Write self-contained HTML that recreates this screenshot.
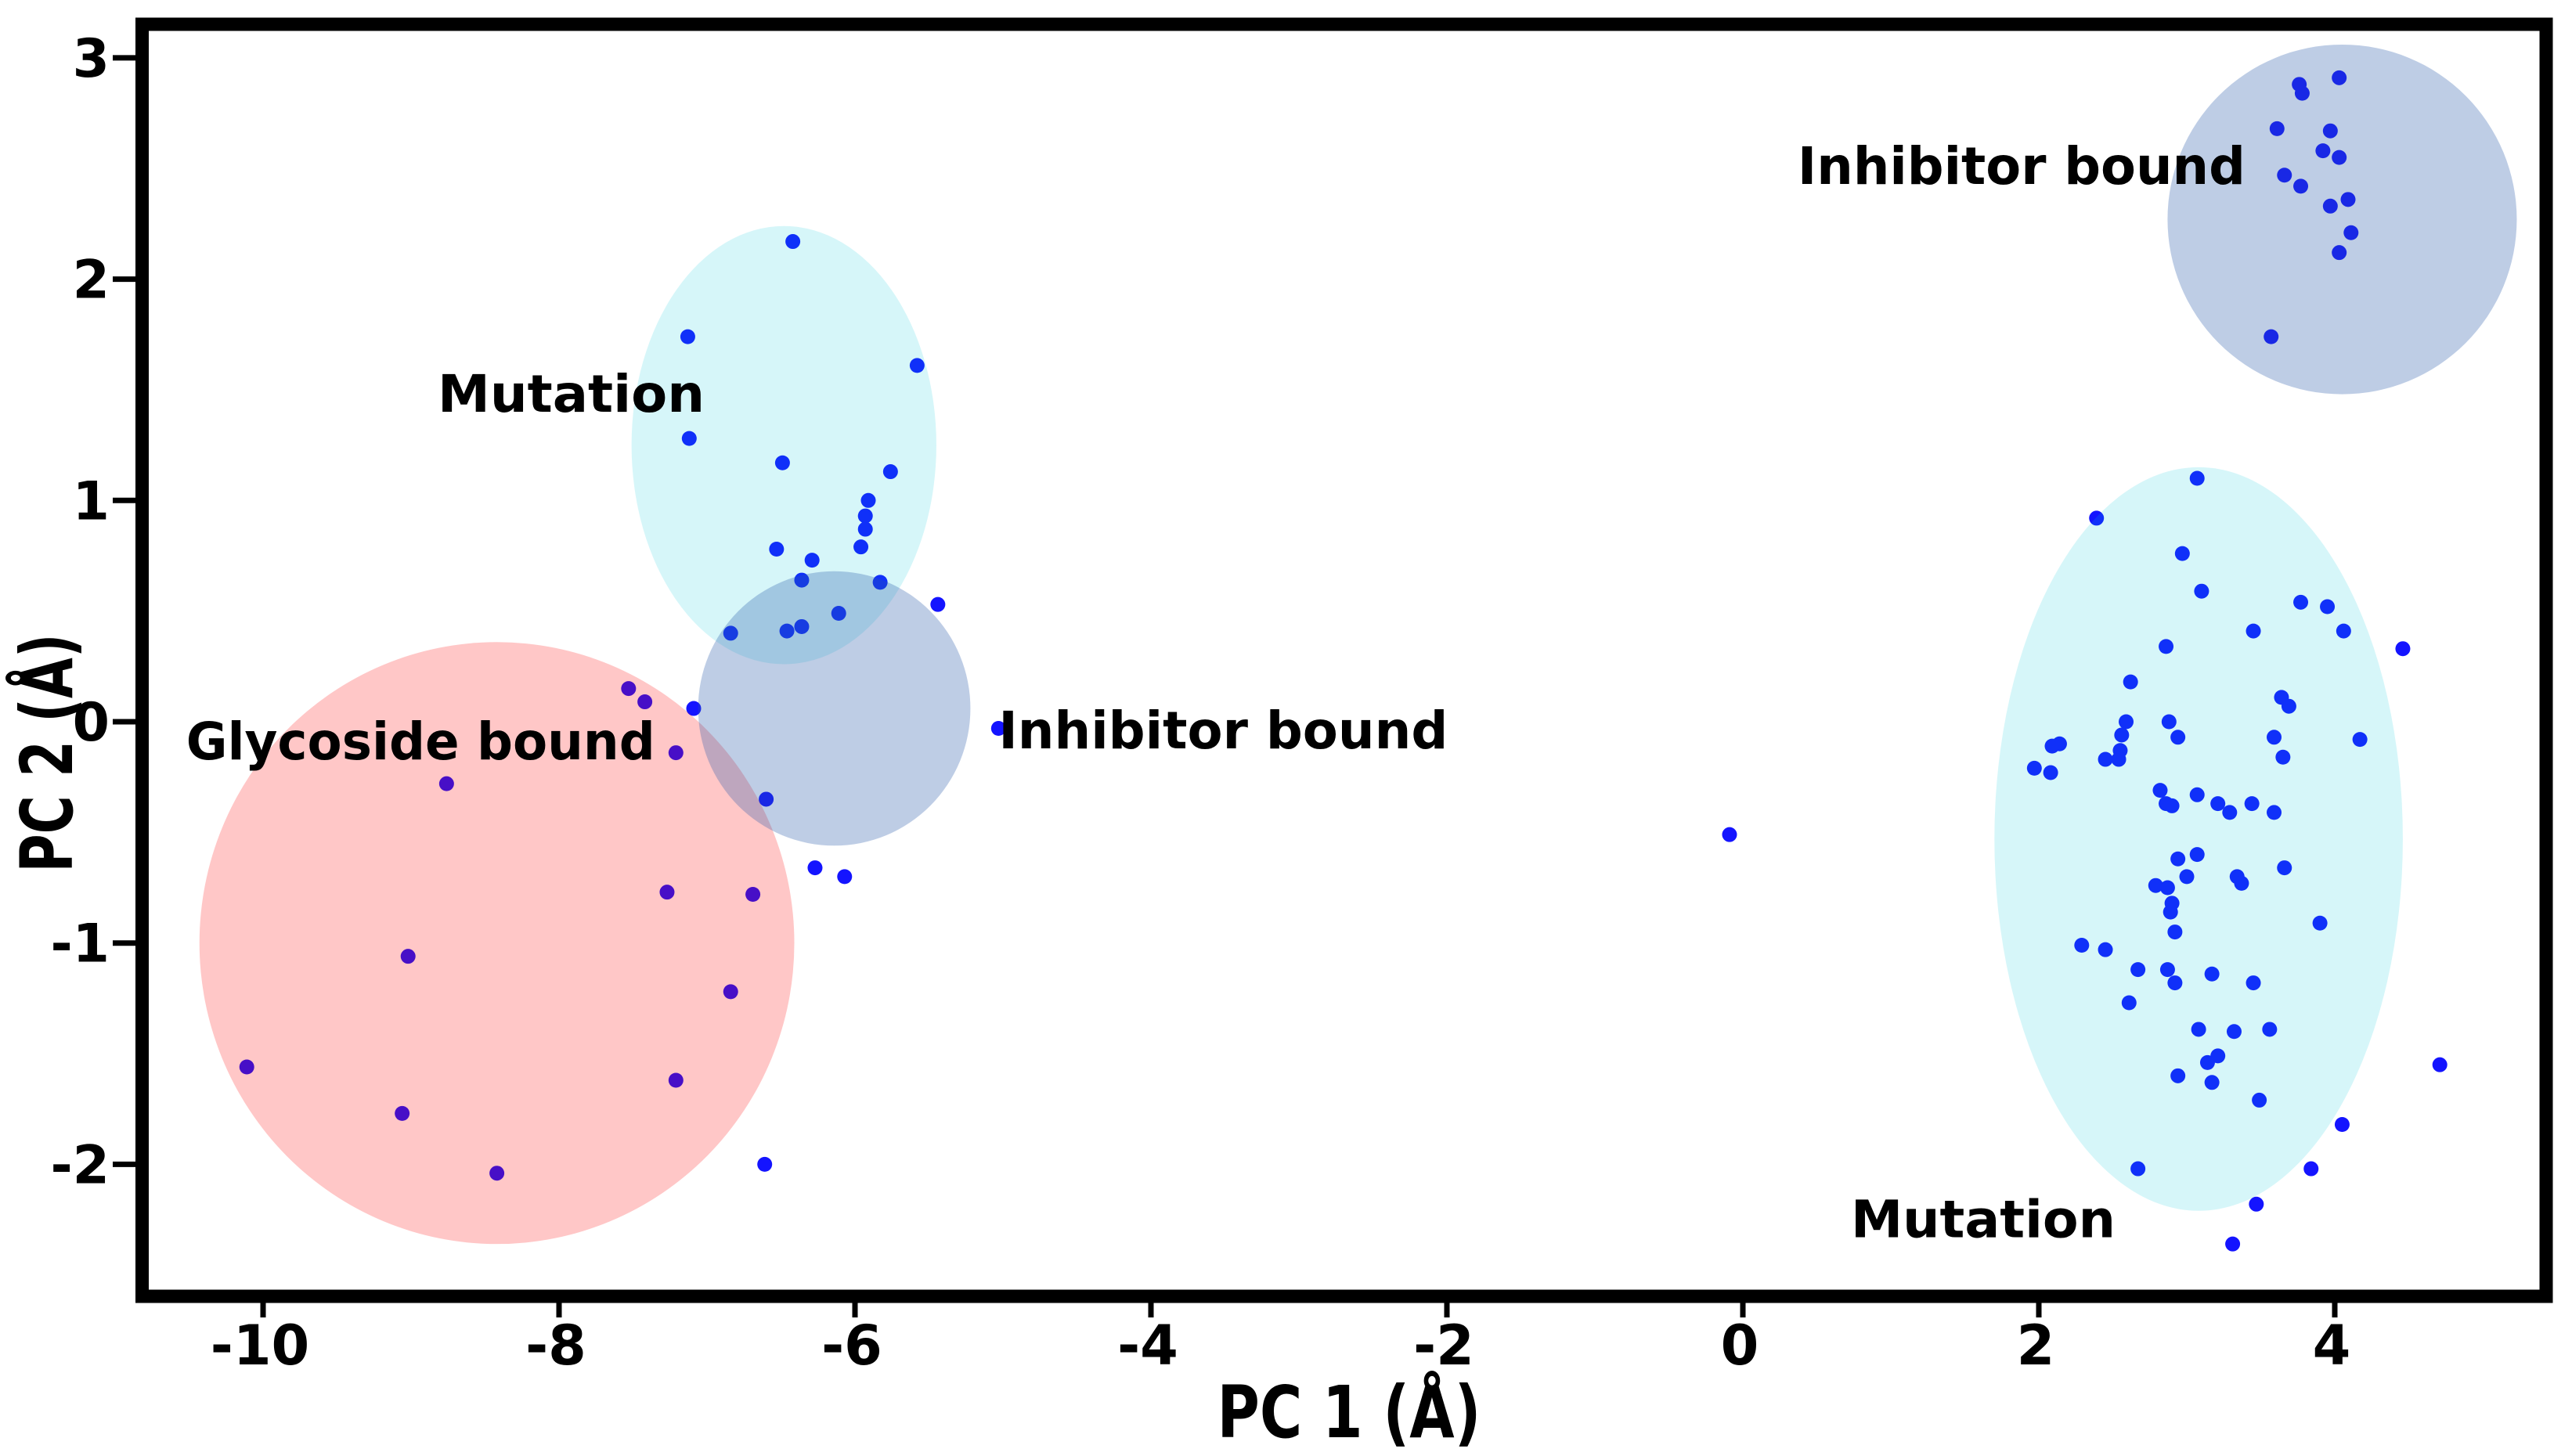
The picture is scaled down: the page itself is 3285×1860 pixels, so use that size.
<!DOCTYPE html>
<html><head><meta charset="utf-8"><style>
html,body{margin:0;padding:0;background:#fff;}
svg{display:block;}
text{font-family:"DejaVu Sans","Liberation Sans",sans-serif;font-weight:bold;fill:#000;}
</style></head><body>
<svg id="chart" width="3285" height="1860" viewBox="0 0 3285 1860" xmlns="http://www.w3.org/2000/svg">
<g id="dots"></g>
<g id="ellipses"></g>
<g id="labels"></g>
<g id="axes"></g>
</svg>
<script>
const pc1 = [-6.42,-7.13,-5.58,-7.12,-6.49,-5.76,-5.91,-5.93,-5.93,-5.96,-6.53,-6.29,-6.36,-5.83,-5.44,-6.11,-6.36,-6.46,-6.84,-7.09,-5.03,-7.53,-7.42,-7.21,-8.76,-6.60,-6.27,-6.07,-7.27,-6.69,-9.02,-6.84,-10.11,-7.21,-9.06,-6.61,-8.42,-0.09,
4.03,3.76,3.78,3.61,3.97,3.92,4.03,3.66,3.77,4.09,3.97,4.11,4.03,3.57,
3.07,2.39,2.97,3.10,3.77,3.95,3.45,4.06,2.86,4.46,2.62,3.64,3.69,2.59,2.88,2.56,3.59,4.17,2.14,2.09,2.94,2.55,2.45,3.65,2.54,1.97,2.08,2.82,3.07,2.86,2.90,3.21,3.44,3.29,3.59,3.07,2.94,3.66,3.00,3.34,3.37,2.79,2.87,2.90,2.89,2.92,3.90,2.29,2.45,2.67,2.87,3.17,2.92,3.45,2.61,3.08,3.32,3.56,3.21,3.14,2.94,3.17,3.49,4.71,4.05,2.67,3.84,3.47,3.31];
const pc2 = [2.17,1.74,1.61,1.28,1.17,1.13,1.00,0.93,0.87,0.79,0.78,0.73,0.64,0.63,0.53,0.49,0.43,0.41,0.40,0.06,-0.03,0.15,0.09,-0.14,-0.28,-0.35,-0.66,-0.70,-0.77,-0.78,-1.06,-1.22,-1.56,-1.62,-1.77,-2.00,-2.04,-0.51,
2.91,2.88,2.84,2.68,2.67,2.58,2.55,2.47,2.42,2.36,2.33,2.21,2.12,1.74,
1.10,0.92,0.76,0.59,0.54,0.52,0.41,0.41,0.34,0.33,0.18,0.11,0.07,0.00,0.00,-0.06,-0.07,-0.08,-0.10,-0.11,-0.07,-0.13,-0.17,-0.16,-0.17,-0.21,-0.23,-0.31,-0.33,-0.37,-0.38,-0.37,-0.37,-0.41,-0.41,-0.60,-0.62,-0.66,-0.70,-0.70,-0.73,-0.74,-0.75,-0.82,-0.86,-0.95,-0.91,-1.01,-1.03,-1.12,-1.12,-1.14,-1.18,-1.18,-1.27,-1.39,-1.40,-1.39,-1.51,-1.54,-1.60,-1.63,-1.71,-1.55,-1.82,-2.02,-2.02,-2.18,-2.36];
const ellipseNames = ["glycoside-bound-ellipse","mutation-left-ellipse","inhibitor-left-ellipse","inhibitor-right-ellipse","mutation-right-ellipse"];
const ellipseCx = [-8.42,-6.48,-6.14,4.05,3.08];
const ellipseCy = [-1.00,1.25,0.06,2.27,-0.53];
const ellipseRx = [2.01,1.03,0.92,1.18,1.38];
const ellipseRy = [1.36,0.99,0.62,0.79,1.68];
const ellipseFill = ["rgba(255,0,0,0.22)","rgba(0,200,215,0.16)","rgba(40,90,170,0.30)","rgba(40,90,170,0.30)","rgba(0,200,215,0.16)"];
const labelText = ["Glycoside bound","Mutation","Inhibitor bound","Inhibitor bound","Mutation"];
const labelX = [-10.52,-8.82,-5.03,0.37,0.73];
const labelY = [-0.17,1.40,-0.12,2.43,-2.33];
const xTicks = [-10,-8,-6,-4,-2,0,2,4];
const yTicks = [3,2,1,0,-1,-2];

const NS="http://www.w3.org/2000/svg";
function X(v){return 2226+v*189;}
function Y(v){return 922-v*282.7;}
function mk(tag,attrs,parent){const e=document.createElementNS(NS,tag);for(const k in attrs)e.setAttribute(k,attrs[k]);parent.appendChild(e);return e;}
const dots=document.getElementById('dots'),ell=document.getElementById('ellipses'),lab=document.getElementById('labels'),ax=document.getElementById('axes');
for(let i=0;i<pc1.length;i++){
  const c=mk('circle',{cx:X(pc1[i]),cy:Y(pc2[i]),r:9.5,fill:'#1414ff'},dots);
  
  
}
for(let i=0;i<ellipseCx.length;i++){
  const e=mk('ellipse',{cx:X(ellipseCx[i]),cy:Y(ellipseCy[i]),rx:ellipseRx[i]*189,ry:ellipseRy[i]*282.7,fill:ellipseFill[i]},ell);
  
  
}
const labW=[599,341,574,572,338];
for(let i=0;i<labelText.length;i++){
  const t=mk('text',{x:X(labelX[i]),y:Y(labelY[i]),'font-size':66,textLength:labW[i],lengthAdjust:'spacingAndGlyphs'},lab);
  t.textContent=labelText[i];
  
  
}
const f=mk('rect',{x:181.5,y:31,width:3070.5,height:1625,fill:'none',stroke:'#000','stroke-width':17},ax);


for(const v of xTicks){
  const l=mk('line',{x1:X(v),x2:X(v),y1:1664,y2:1683,stroke:'#000','stroke-width':7},ax);
  
  
  const t=mk('text',{x:X(v)-4,y:1743,'font-size':70,'text-anchor':'middle','font-family':'Liberation Sans, sans-serif'},ax);
  t.textContent=String(v);
  
  
}
for(const v of yTicks){
  const l=mk('line',{x1:144,x2:173,y1:Y(v),y2:Y(v),stroke:'#000','stroke-width':7},ax);
  
  
  const t=mk('text',{x:140,y:Y(v)+24,'font-size':68,'text-anchor':'end'},ax);
  t.textContent=String(v);
  
  
}
const xt=mk('text',{x:1723,y:1836,'font-size':92,'text-anchor':'middle',textLength:337,lengthAdjust:'spacingAndGlyphs'},ax);
xt.textContent='PC 1 (Å)';


const yt=mk('text',{x:0,y:0,'font-size':92,'text-anchor':'middle',textLength:305,lengthAdjust:'spacingAndGlyphs',transform:'translate(92,962) rotate(-90)'},ax);
yt.textContent='PC 2 (Å)';


</script>
</body></html>
